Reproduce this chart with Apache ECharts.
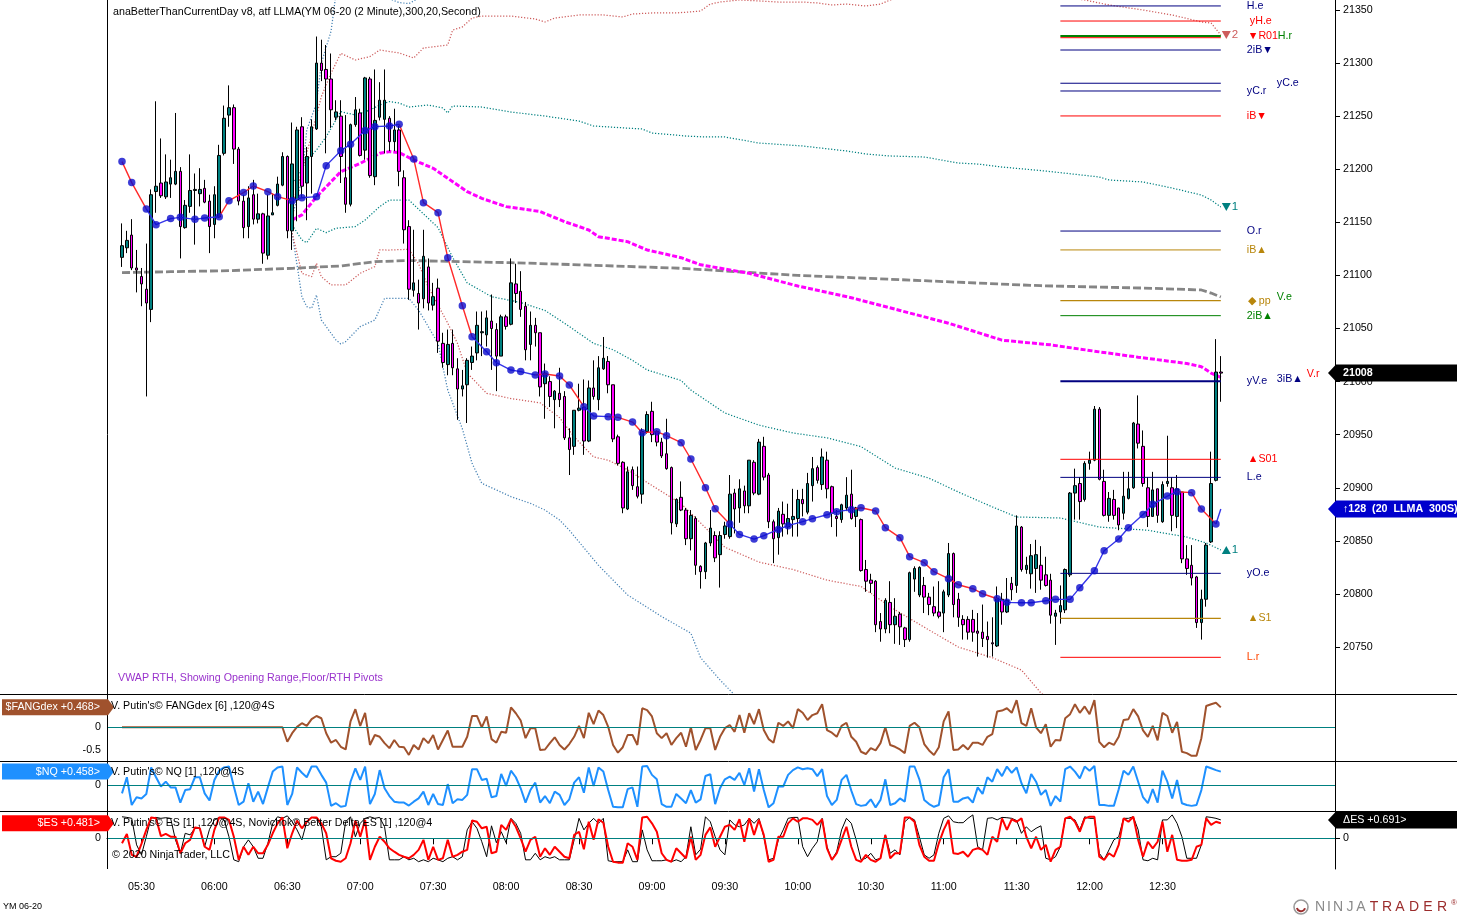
<!DOCTYPE html>
<html>
<head>
<meta charset="utf-8">
<title>YM 06-20 (2 Minute)</title>
<script src="https://cdn.jsdelivr.net/npm/echarts/dist/echarts.min.js"></script>
<style>
html,body{margin:0;padding:0;background:#fff;overflow:hidden}
#chart{width:1457px;height:916px}
</style>
</head>
<body>
<div id="chart"></div>
<script>
// ===================== DATA =====================
// bar i is the 2-minute bar at 05:22 + 2*i minutes
const firstBarMinute = 322;
const barMinutes = 2;
const timeTicks = ['05:30','06:00','06:30','07:00','07:30','08:00','08:30','09:00','09:30','10:00','10:30','11:00','11:30','12:00','12:30'];
const priceTicks = [20750,20800,20850,20900,20950,21000,21050,21100,21150,21200,21250,21300,21350];

// candles: [open, close, low, high]
const candles = [
[21117,21128,21108,21149],[21126,21133,21121,21142],[21138,21107,21105,21153],[21107,21105,21084,21124],[21099,21092,21071,21107],
[21087,21074,20986,21130],[21068,21176,21056,21181],[21179,21184,21159,21264],[21187,21175,21173,21229],[21174,21188,21172,21214],
[21186,21192,21173,21209],[21186,21198,21185,21253],[21198,21146,21116,21202],[21145,21166,21144,21171],[21165,21180,21159,21214],
[21180,21181,21129,21196],[21177,21181,21165,21201],[21182,21169,21168,21190],[21170,21146,21121,21176],[21148,21176,21135,21184],
[21155,21213,21154,21223],[21215,21248,21213,21260],[21251,21258,21240,21279],[21258,21219,21205,21261],[21219,21170,21166,21221],
[21170,21145,21135,21176],[21146,21173,21135,21184],[21176,21153,21148,21190],[21153,21158,21149,21177],[21158,21121,21111,21159],
[21119,21156,21115,21176],[21157,21159,21157,21177],[21166,21186,21165,21193],[21185,21212,21184,21216],[21212,21142,21135,21213],
[21142,21205,21124,21244],[21171,21237,21151,21240],[21240,21184,21174,21249],[21187,21212,21152,21221],[21212,21240,21177,21247],
[21238,21300,21237,21325],[21300,21293,21283,21322],[21294,21285,21215,21317],[21285,21256,21239,21309],[21249,21254,21246,21265],
[21250,21212,21187,21265],[21192,21167,21159,21251],[21167,21242,21165,21243],[21242,21256,21240,21268],[21253,21213,21212,21257],
[21218,21286,21209,21287],[21285,21194,21192,21287],[21193,21246,21185,21294],[21249,21265,21246,21282],[21247,21265,21215,21294],
[21248,21226,21217,21250],[21226,21237,21217,21257],[21237,21198,21184,21241],[21192,21143,21130,21199],[21146,21087,21077,21152],
[21086,21093,21080,21143],[21083,21074,21049,21096],[21078,21118,21069,21143],[21108,21074,21067,21116],[21072,21080,21067,21093],
[21088,21038,21027,21097],[21036,21018,21013,21046],[21016,21035,21006,21049],[21036,21013,21006,21049],[21012,20993,20964,21022],
[20993,20996,20986,21011],[20997,21020,20961,21022],[21018,21024,21011,21033],[21027,21053,21020,21066],[21046,21047,21024,21066],
[21044,21060,21033,21067],[21057,21050,21011,21082],[21049,21024,20991,21055],[21024,21061,21024,21063],[21061,21052,21049,21063],
[21054,21093,21053,21116],[21092,21083,21074,21111],[21085,21068,21061,21104],[21071,21030,21020,21075],[21035,21053,21020,21066],
[21053,21046,21033,21060],[21046,20995,20986,21046],[20998,21008,20965,21017],[21000,20986,20976,21005],[20983,20991,20956,20992],
[20989,20983,20976,21013],[20986,20947,20945,20991],[20947,20936,20912,20956],[20939,20973,20931,20973],[20973,20975,20972,20998],
[20976,20944,20931,21002],[20944,20994,20943,21001],[20994,20986,20983,21020],[20983,21013,20973,21024],[21012,21022,21011,21042],
[21019,20997,20989,21024],[20997,20946,20943,20997],[20948,20923,20921,20950],[20924,20881,20876,20925],[20880,20915,20879,20920],
[20917,20902,20898,20920],[20901,20892,20890,20920],[20894,20953,20885,20956],[20953,20969,20951,20972],[20972,20950,20943,20981],
[20953,20943,20939,20954],[20943,20930,20928,20947],[20932,20918,20917,20965],[20919,20867,20856,20920],[20866,20889,20863,20890],
[20891,20879,20878,20906],[20879,20852,20846,20881],[20852,20874,20841,20879],[20871,20827,20818,20873],[20826,20821,20805,20827],
[20821,20848,20814,20849],[20848,20862,20845,20879],[20855,20834,20830,20859],[20837,20855,20806,20859],[20856,20864,20852,20868],
[20854,20894,20852,20912],[20895,20880,20857,20899],[20881,20899,20867,20908],[20897,20883,20876,20902],[20883,20926,20876,20926],
[20924,20895,20893,20926],[20894,20943,20893,20946],[20939,20910,20907,20948],[20912,20868,20862,20914],[20868,20852,20829,20870],
[20853,20878,20837,20881],[20875,20866,20854,20887],[20863,20871,20856,20885],[20870,20873,20854,20899],[20871,20889,20854,20898],
[20889,20885,20873,20899],[20877,20904,20875,20914],[20902,20918,20887,20929],[20919,20907,20904,20921],[20903,20929,20898,20937],
[20926,20899,20890,20934],[20901,20876,20863,20902],[20873,20871,20854,20879],[20870,20884,20867,20885],[20881,20893,20878,20910],
[20894,20871,20870,20917],[20873,20881,20863,20882],[20870,20822,20821,20871],[20823,20812,20802,20832],[20813,20810,20801,20819],
[20812,20771,20764,20813],[20774,20767,20755,20782],[20767,20794,20763,20796],[20792,20771,20763,20812],[20771,20779,20753,20796],
[20781,20769,20752,20783],[20768,20757,20750,20769],[20757,20820,20755,20821],[20814,20824,20802,20826],[20799,20825,20797,20826],
[20808,20797,20782,20816],[20797,20790,20780,20801],[20788,20782,20779,20807],[20783,20779,20777,20812],[20782,20802,20764,20804],
[20799,20838,20797,20848],[20838,20790,20778,20839],[20795,20778,20769,20801],[20776,20771,20757,20780],[20776,20764,20757,20779],
[20776,20764,20755,20785],[20765,20763,20741,20782],[20764,20758,20750,20790],[20760,20757,20740,20774],[20754,20753,20741,20778],
[20751,20796,20750,20807],[20795,20783,20771,20801],[20783,20794,20782,20815],[20810,20804,20794,20816],[20808,20864,20801,20874],
[20863,20823,20821,20864],[20823,20827,20819,20835],[20819,20836,20805,20847],[20824,20837,20801,20851],[20827,20813,20804,20845],
[20818,20808,20807,20835],[20813,20780,20772,20819],[20779,20782,20752,20785],[20783,20789,20772,20808],[20785,20823,20782,20824],
[20818,20895,20816,20896],[20895,20902,20870,20918],[20904,20887,20870,20910],[20889,20923,20887,20925],[20923,20926,20917,20934],
[20926,20974,20925,20977],[20974,20908,20907,20976],[20906,20874,20873,20917],[20874,20890,20868,20896],[20889,20874,20870,20898],
[20881,20865,20860,20881],[20876,20892,20870,20915],[20890,20899,20889,20915],[20900,20961,20899,20962],[20960,20942,20937,20987],
[20939,20904,20901,20954],[20900,20873,20863,20910],[20873,20898,20873,20915],[20899,20874,20867,20899],[20868,20903,20867,20906],
[20904,20906,20901,20949],[20900,20874,20859,20910],[20873,20899,20862,20912],[20896,20833,20829,20896],[20833,20824,20818,20846],
[20827,20815,20808,20846],[20816,20773,20768,20817],[20773,20795,20757,20804],[20795,20846,20788,20848],[20849,20904,20848,20934],
[20907,21009,20906,21040],[21009,21008,20981,21024]
];

// LLMA (dots) : bar index, value; colour runs of the connecting line
const llmaBars = [0,2,5,7,10,12,15,17,20,22,25,27,30,32,35,37,40,42,45,47,50,52,55,57,60,62,65,67,70,72,75,77,80,82,85,87,90,92,95,97,100,102,105,107,110,112,115,117,120,122,125,127,130,132,135,137,140,142,145,147,150,152,155,157,160,162,165,167,170,172,175,177,180,182,185,187,190,192,195,197,200,202,205,207,210,212,215,217,220,222,225,226];
const llmaVals = [21207.2,21187.4,21162.6,21147.8,21153.5,21154.7,21152.8,21154.1,21155.3,21170.4,
21178.0,21184.2,21178.9,21174.2,21170.4,21173.2,21174.2,21203.4,21217.5,21223.5,
21236.4,21240.1,21240.7,21242.3,21209.7,21168.5,21159.1,21116.7,21071.5,21042.3,
21028.2,21017.8,21010.9,21009.4,21006.2,21007.2,21005.3,20996.8,20976.4,20967.6,
20967.0,20966.3,20961.9,20951.9,20952.8,20949.1,20942.5,20927.1,20900.1,20880.3,
20865.9,20856.1,20851.7,20854.9,20860.8,20864.3,20868.1,20870.9,20874.6,20877.5,
20879.4,20881.2,20878.1,20862.4,20853.0,20835.1,20829.4,20821.0,20814.4,20808.7,
20804.9,20800.2,20795.5,20792.1,20791.7,20791.7,20793.6,20794.9,20794.9,20805.9,
20821.9,20840.7,20851.7,20862.4,20874.9,20884.4,20892.2,20896.3,20895.4,20880.0,
20865.9,20880.0];
const llmaRuns = [['r',2],['b',6],['r',6],['b',9],['r',6],['b',5],['r',4],['b',2],['r',10],['b',10],['r',12],['b',15],['r',3],['b',1]];

// VWAP (grey dashed) and RTH VWAP (magenta) : [bar, value]
const vwap = [[0,21102.6],[10,21103.5],[22,21104.5],[35,21106.7],[45,21108.9],[52,21113.0],[59,21114.0],[80,21112.0],[94,21110.0],[115,21106.7],[139,21100.0],[160,21096.0],[180,21092.0],[189,21090.3],[210,21088.1],[222,21086.3],[224,21083.4],[226,21079.7]];
const vwapRth = [[35,21152.2],[37,21157.0],[40,21174.0],[45,21197.7],[49,21205.6],[53,21215.0],[55,21216.6],[57,21215.7],[60,21208.7],[64,21200.9],[67,21191.5],[71,21178.9],[74,21172.6],[79,21164.8],[86,21160.1],[91,21150.7],[96,21142.8],[98,21136.5],[104,21131.8],[108,21124.0],[115,21116.7],[119,21110.0],[129,21102.0],[139,21090.0],[150,21079.0],[160,21067.0],[170,21055.0],[181,21039.0],[191,21034.6],[201,21028.0],[209,21023.0],[219,21017.0],[222,21014.0],[224,21008.0],[226,21004.0]];

// deviation bands : [bar, value]
const tealUp = [[35,21186.7],[37,21200.9],[38,21208.7],[40,21218.1],[42,21230.7],[44,21246.4],[45,21254.2],[48,21251.1],[51,21255.8],[53,21260.5],[55,21263.7],[57,21262.4],[59,21258.6],[63,21260.5],[66,21257.7],[67,21253.0],[68,21259.6],[74,21258.6],[80,21253.9],[87,21250.1],[94,21245.4],[97,21240.7],[107,21237.9],[109,21234.1],[116,21231.3],[120,21230.4],[124,21230.4],[131,21224.7],[140,21221.9],[149,21217.2],[153,21214.4],[158,21212.5],[165,21211.5],[172,21205.9],[176,21204.9],[181,21202.1],[190,21198.3],[201,21192.7],[203,21189.9],[210,21188.0],[216,21182.3],[222,21175.7],[224,21171.0],[226,21164.4]];
const tealLo = [[35,21147.5],[37,21133.4],[38,21130.8],[40,21144.4],[42,21140.3],[44,21144.4],[48,21146.0],[50,21152.2],[53,21164.8],[55,21171.0],[59,21171.0],[62,21158.0],[65,21145.0],[68,21117.0],[71,21093.0],[76,21080.0],[82,21074.5],[87,21067.0],[91,21055.0],[97,21036.0],[101,21030.0],[105,21020.0],[108,21011.0],[115,21001.0],[117,20992.0],[124,20970.4],[131,20959.0],[138,20951.6],[145,20947.0],[152,20938.7],[159,20918.6],[166,20909.0],[172,20896.0],[179,20882.0],[184,20872.5],[193,20871.5],[201,20863.0],[211,20860.0],[219,20853.6],[223,20848.0],[226,20841.4]];
const redUp = [[35,21164.8],[38,21215.0],[41,21268.4],[43,21290.4],[45,21309.2],[48,21302.9],[51,21306.1],[53,21312.3],[57,21309.5],[60,21304.8],[62,21314.2],[67,21317.0],[68,21331.1],[70,21334.0],[72,21342.4],[74,21344.3],[80,21344.3],[85,21341.5],[87,21338.7],[89,21342.4],[94,21345.3],[99,21345.3],[103,21343.4],[105,21346.2],[109,21347.2],[114,21347.2],[119,21349.0],[121,21355.6],[123,21357.5],[127,21359.4],[131,21358.5],[135,21357.5],[140,21357.5],[143,21356.6],[146,21354.7],[149,21355.6],[153,21353.7],[156,21355.6],[158,21359.4],[162,21363.0],[170,21365.0],[180,21367.0],[190,21364.0],[198,21359.4],[203,21354.7],[210,21350.0],[216,21345.3],[222,21338.7],[224,21337.7],[226,21326.4]];
const redLo = [[35,21139.7],[37,21102.0],[39,21098.8],[40,21111.4],[41,21098.8],[43,21091.0],[46,21091.0],[49,21102.0],[52,21108.3],[53,21124.0],[55,21123.9],[59,21124.6],[61,21111.0],[63,21089.0],[67,21055.0],[69,21036.0],[71,21008.0],[75,20989.0],[80,20984.0],[86,20980.0],[90,20966.0],[93,20948.0],[97,20929.0],[100,20926.0],[104,20917.0],[108,20905.0],[115,20885.0],[117,20876.0],[124,20844.0],[131,20830.0],[138,20823.0],[145,20813.0],[152,20807.0],[155,20797.5],[159,20785.0],[166,20766.0],[172,20750.0],[179,20740.0],[185,20728.3],[189,20706.7],[193,20695.0],[201,20690.0],[226,20680.0]];
const blueUp = [[35,21155.0],[37,21190.0],[38,21237.0],[40,21262.0],[41,21300.0],[43,21330.0],[44,21365.0],[48,21385.0],[53,21364.0],[57,21357.0],[59,21356.0],[61,21361.0],[66,21385.0],[90,21430.0],[140,21450.0],[226,21490.0]];
const blueLo = [[35,21139.7],[37,21080.0],[38,21070.6],[39,21069.0],[40,21081.6],[41,21058.0],[44,21039.2],[45,21035.4],[46,21037.6],[49,21051.8],[52,21058.0],[54,21078.4],[59,21078.4],[61,21067.4],[65,21036.0],[67,20992.0],[70,20955.6],[72,20923.0],[74,20904.2],[77,20898.0],[80,20891.6],[84,20885.3],[87,20879.0],[90,20869.6],[92,20860.0],[98,20827.0],[104,20799.0],[111,20778.7],[117,20763.0],[119,20740.0],[123,20719.0],[127,20700.0],[140,20650.0],[226,20560.0]];

// floor / RTH pivots drawn on the right
const pivotNames  = ['H.e','yH.e','R01','H.r','2iB-dn','yC.e','yC.r','iB-dn','O.r','iB-up','pp','2iB-up','yV.e','S01','L.e','yO.e','S1','L.r'];
const pivotLevels = [21353.8,21339.6,21323.9,21325.6,21312.3,21281.0,21273.7,21250.2,21141.8,21124.0,21076.3,21062.1,21000.4,20926.8,20909.8,20819.4,20777.0,20740.3];
const pivotFromBar = 193, pivotToBar = 226;
const tagTexts  = ['H.e','yH.e','\u25BCR01','H.r','2iB\u25BC','yC.e','yC.r','iB\u25BC','O.r','iB\u25B2','\u25C6 pp','V.e','2iB\u25B2','yV.e','3iB\u25B2','V.r','\u25B2S01','L.e','yO.e','\u25B2S1','L.r'];
const tagLevels = [21353.8,21339.6,21325.0,21325.0,21312.3,21281.0,21273.7,21250.2,21141.8,21124.0,21076.3,21079.5,21062.1,21000.4,21002.5,21007.5,20926.8,20909.8,20819.4,20777.0,20740.3];

// lower panels (one value per bar)
const fang = [
0,0,0,0,0,0,0,0,0,0, 0,0,0,0,0,0,0,0,0,0, 0,0,0,0,0,0,0,0,0,0, 0,0,0,0,
-0.32,-0.13,0.01,0.09,0.03,0.18,0.25,0.20,-0.13,-0.34,-0.28,-0.43,-0.49,0.13,0.40,0.03,0.32,-0.39,-0.17,-0.21,
-0.35,-0.46,-0.28,-0.43,-0.44,-0.61,-0.39,-0.49,-0.24,-0.35,-0.17,-0.49,-0.28,-0.07,-0.43,-0.43,-0.43,-0.21,0.25,0.25,
0.00,0.24,-0.26,-0.34,-0.10,-0.12,0.44,0.31,0.15,-0.24,
-0.02,-0.02,-0.50,-0.49,-0.35,-0.22,-0.39,-0.49,-0.37,-0.21,
0.03,-0.24,0.32,0.07,0.37,0.27,0.01,-0.39,-0.56,-0.44,
-0.17,-0.17,-0.39,0.42,0.38,0.24,-0.13,-0.24,-0.13,-0.39,
-0.24,-0.12,-0.43,0.00,-0.50,-0.28,-0.02,-0.02,-0.50,-0.21,
-0.02,0.05,-0.10,0.27,-0.12,0.31,0.07,0.40,-0.06,-0.26,
-0.34,0.10,0.03,0.13,-0.02,0.40,0.32,0.16,0.27,0.31,
0.51,-0.06,-0.12,-0.21,0.03,0.10,-0.21,-0.32,-0.54,-0.59,
-0.46,-0.51,-0.35,0.00,-0.39,-0.43,-0.49,-0.57,0.03,0.10,
0.00,-0.37,-0.51,-0.61,-0.44,0.13,0.35,-0.50,-0.49,-0.39,
-0.49,-0.34,-0.34,
-0.39,-0.21,-0.15,0.35,0.37,0.42,0.32,0.60,0.09,0.03,
0.42,0.00,-0.13,0.07,-0.43,-0.28,-0.29,0.20,0.29,0.51,
0.32,0.46,0.29,0.60,-0.32,-0.44,-0.34,-0.39,-0.21,0.16,
0.18,0.40,0.24,-0.07,-0.21,0.03,-0.29,0.32,0.25,-0.12,
0.12,-0.54,-0.57,-0.63,-0.63,-0.24,0.47,0.51,0.54,0.44
];
const nq = [
-0.27,0.27,-0.66,-0.40,-0.44,-0.29,0.60,0.27,-0.04,0.12,
-0.07,-0.07,-0.58,-0.16,-0.13,0.27,0.27,-0.27,-0.51,0.18,
0.49,0.60,0.63,-0.04,-0.66,-0.55,0.07,-0.55,-0.21,-0.63,
-0.07,0.46,0.60,0.63,-0.66,-0.29,0.60,0.42,0.27,0.63,
0.63,0.35,0.09,-0.69,-0.60,-0.72,-0.69,0.12,0.57,0.18,
0.63,-0.63,-0.29,0.51,-0.10,-0.36,-0.55,-0.58,-0.58,-0.68,
-0.55,-0.44,-0.21,-0.66,-0.29,-0.63,-0.66,0.04,-0.60,-0.47,
-0.49,-0.32,0.54,0.54,0.18,0.22,-0.40,-0.36,
0.38,-0.02,0.49,0.27,-0.10,-0.58,-0.16,0.09,-0.58,-0.36,
-0.60,-0.21,-0.32,-0.66,-0.47,0.09,0.27,-0.25,0.60,-0.02,
0.60,0.46,-0.16,-0.72,-0.74,-0.74,-0.13,-0.07,-0.72,0.63,
0.65,0.35,0.20,-0.63,-0.72,-0.72,-0.29,-0.44,-0.60,-0.16,
-0.58,-0.47,0.31,0.37,-0.63,-0.10,0.20,0.29,0.18,0.42,
0.01,0.57,-0.21,0.54,-0.16,-0.74,-0.60,-0.04,-0.04,0.35,
0.51,0.60,0.54,0.57,0.54,0.31,0.54,-0.36,-0.66,-0.49,
0.18,0.35,-0.18,-0.63,-0.69,-0.66,-0.47,-0.74,-0.49,0.20,
-0.66,-0.60,-0.44,-0.55,0.63,0.63,0.20,-0.49,-0.63,-0.72,
-0.66,0.27,0.54,-0.55,-0.55,-0.44,-0.40,-0.58,-0.07,
-0.29,0.27,0.12,0.54,0.31,0.63,0.42,0.60,0.07,-0.27,
0.38,0.12,-0.32,-0.16,-0.69,-0.36,-0.55,0.54,0.63,0.46,
0.23,0.63,0.49,0.65,-0.66,-0.66,-0.69,-0.69,-0.13,0.49,
0.35,0.63,0.12,-0.40,-0.60,-0.13,-0.58,0.49,0.12,-0.44,
0.18,-0.60,-0.66,-0.69,-0.66,-0.16,0.63,0.57,0.51,0.46
];
const es = [
-0.16,0.14,-0.53,-0.59,-0.18,0.27,0.67,0.64,0.07,0.14,
0.05,0.05,-0.48,-0.16,-0.05,0.35,0.32,-0.27,-0.37,0.27,
0.67,0.67,0.59,0.05,-0.69,-0.27,-0.53,-0.27,-0.48,-0.48,
-0.21,0.16,0.48,0.67,-0.32,0.16,0.57,0.32,0.53,0.67,
0.67,0.48,0.16,-0.64,-0.72,-0.75,-0.64,-0.16,0.57,0.05,
0.59,-0.69,-0.27,0.05,-0.11,-0.32,-0.43,-0.53,-0.59,-0.64,
-0.53,-0.37,-0.05,-0.69,-0.27,-0.69,-0.64,-0.05,-0.59,-0.53,
-0.43,-0.37,0.57,0.53,0.32,0.37,-0.48,-0.43,
0.43,0.27,0.61,0.37,0,-0.43,-0.05,0.05,-0.59,-0.32,
-0.53,-0.27,-0.43,-0.59,-0.64,0.11,0.21,-0.35,0.53,-0.05,
0.61,0.50,-0.27,-0.75,-0.78,-0.78,-0.16,-0.27,-0.69,0.67,
0.69,0.48,0.21,-0.48,-0.69,-0.75,-0.32,-0.48,-0.64,0.05,
-0.69,-0.53,0.11,0.35,-0.27,0.05,0.37,0.43,0.27,0.61,
-0.11,0.64,0.11,0.59,0.11,-0.75,-0.69,0.05,0.05,0.48,
0.64,0.53,0.64,0.64,0.59,0.43,0.61,-0.32,-0.69,-0.48,
-0.05,0.37,-0.27,-0.69,-0.75,-0.53,-0.69,-0.75,-0.64,0.11,
-0.64,-0.48,-0.48,0.67,0.67,0.53,-0.21,-0.59,-0.72,-0.72,
-0.16,0.27,0.59,-0.48,-0.50,-0.43,-0.59,-0.37,-0.32,
-0.37,-0.53,0.05,-0.11,0.64,0.27,0.61,0.53,0.64,0.05,
-0.32,0.05,-0.37,-0.21,-0.75,-0.37,-0.27,0.64,0.69,0.53,
0.21,0.64,0.69,0.69,-0.59,-0.69,-0.48,-0.59,-0.21,0.64,
0.53,0.69,-0.05,-0.59,-0.11,-0.32,-0.11,0.53,-0.43,0.11,
-0.69,-0.72,-0.72,-0.69,-0.27,-0.21,0.64,0.43,0.53,0.48
];
const esDelta = [
0.69,0.67,0.64,-0.21,-0.53,0.05,0.66,0.67,0.64,0.66,
0.64,-0.05,-0.48,0.16,0.11,0.32,0.32,-0.27,0.29,0.59,
0.67,0.59,0.05,-0.69,-0.75,-0.27,-0.05,-0.27,-0.64,-0.64,
-0.16,0.48,0.69,0.64,0.72,0.53,0.27,-0.05,0.53,0.67,
0.64,0.37,-0.69,-0.59,-0.59,-0.48,0.53,0.69,0.05,0.48,
0.64,0.69,0.64,0.67,0.37,-0.69,-0.69,-0.69,-0.59,-0.69,
-0.64,-0.75,-0.69,-0.75,-0.64,-0.69,-0.75,-0.64,-0.59,-0.69,
-0.59,0.27,0.53,0.32,-0.11,-0.59,0.40,-0.14,
0.21,-0.14,0.64,0.48,0.16,-0.69,-0.69,-0.48,-0.69,-0.59,
-0.64,-0.59,-0.69,-0.69,-0.69,-0.05,0.64,0.27,0.48,0.64,
0.48,0.64,-0.72,-0.75,-0.75,-0.75,-0.37,-0.75,-0.75,0.27,
-0.37,-0.72,-0.72,-0.72,-0.69,-0.75,-0.69,-0.75,-0.59,0.37,
-0.53,-0.35,0.69,0.53,0.05,-0.37,-0.53,0.59,0.43,0.37,
0.43,0.64,0.48,0.64,0.05,-0.69,-0.64,-0.05,0.27,0.64,
0.67,0.67,-0.27,-0.59,-0.32,-0.11,0.64,-0.27,-0.69,-0.43,
0.27,0.64,0.48,-0.05,-0.69,-0.64,-0.48,-0.69,-0.64,0.11,
-0.48,-0.37,-0.53,0.53,0.67,0.59,0.05,-0.53,-0.64,-0.53,
0.16,0.64,0.72,0.53,0.50,0.50,0.64,0.75,-0.27,
-0.37,0.64,0.66,0.59,0.67,0.66,0.64,0.57,0.16,0.37,
0.21,0.32,0.40,-0.64,-0.69,-0.59,-0.27,0.64,0.64,0.59,
0.27,0.69,0.64,0.64,-0.48,-0.69,-0.37,-0.05,0.05,0.64,
0.64,0.69,0.27,-0.69,-0.72,-0.64,-0.69,0.59,0.59,0.75,
0.48,0.05,-0.64,-0.64,-0.64,-0.21,0.69,0.67,0.64,0.59
];
const fangTag = 0.468, nqTag = 0.458, esTag = 0.481, esDeltaTag = 0.691;
const llmaTagText = '\u2191128  (20  LLMA  300S)';

// ===================== CHART =====================
const FONT = '"Liberation Sans", Arial, Helvetica, sans-serif';
const FS = 10.7;
const L = 107, R = 1335, W = R - L;
const X_MIN = 315.83, X_MAX = 820.97;
const barTime = i => firstBarMinute + barMinutes * i;
const toMin = s => parseInt(s.slice(0,2),10)*60 + parseInt(s.slice(3),10);
const fmtTime = m => { m = Math.round(m); return String(Math.floor(m/60)).padStart(2,'0') + ':' + String(m%60).padStart(2,'0'); };
const tickMinutes = timeTicks.map(toMin);

const C = {navy:'#000080', red:'#FF0000', gold:'#B8860B', green:'#008000', orange:'#FF4500', teal:'#008080'};
const pivotStyle = {
  'H.e':[C.navy,1], 'yH.e':[C.red,1], 'H.r':[C.green,2], 'R01':[C.red,1], '2iB-dn':[C.navy,1],
  'yC.e':[C.navy,1], 'yC.r':[C.navy,1], 'iB-dn':[C.red,1], 'O.r':[C.navy,1], 'iB-up':[C.gold,1],
  'pp':[C.gold,1.3], '2iB-up':[C.green,1], 'yV.e':[C.navy,2], 'S01':[C.red,1], 'L.e':[C.navy,1],
  'yO.e':[C.navy,1], 'S1':[C.gold,1.3], 'L.r':[C.red,1]
};
const tagStyle = {
  'H.e':[C.navy,26], 'yH.e':[C.red,29], '\u25BCR01':[C.red,27], 'H.r':[C.green,57], '2iB\u25BC':[C.navy,26],
  'yC.e':[C.navy,56], 'yC.r':[C.navy,26], 'iB\u25BC':[C.red,26], 'O.r':[C.navy,26], 'iB\u25B2':[C.gold,26],
  '\u25C6 pp':[C.gold,27], 'V.e':[C.green,56], '2iB\u25B2':[C.green,26], 'yV.e':[C.navy,26], '3iB\u25B2':[C.navy,56],
  'V.r':[C.red,86], '\u25B2S01':[C.red,27], 'L.e':[C.navy,26], 'yO.e':[C.navy,26], '\u25B2S1':[C.gold,27], 'L.r':[C.orange,26]
};

const chart = echarts.init(document.getElementById('chart'), null, {renderer:'canvas'});

const pts = arr => arr.map(p => [barTime(p[0]), p[1]]);
const perBar = arr => arr.map((v,i) => [barTime(i), v]);

function band(arr, color){
  return {type:'line', xAxisIndex:0, yAxisIndex:0, data: pts(arr), symbol:'none', showSymbol:false, silent:true, z:1,
    lineStyle:{color, width:1.25, type:[1.2,1.8]}};
}

// LLMA coloured segments
const llmaPts = llmaBars.map((b,k) => [barTime(b), llmaVals[k]]);
const llmaSegColor = [];
llmaRuns.forEach(r => { for (let k = 0; k < r[1]; k++) llmaSegColor.push(r[0]); });
const llmaRed = [], llmaBlue = [];
for (let k = 0; k < llmaPts.length - 1; k++) {
  const arr = llmaSegColor[k] === 'r' ? llmaRed : llmaBlue;
  const last = arr[arr.length-1];
  if (!last || last[0] !== llmaPts[k][0]) {
    if (last) arr.push([(last[0] + llmaPts[k][0]) / 2, '-']);
    arr.push(llmaPts[k]);
  }
  arr.push(llmaPts[k+1]);
}

const axisFont = {color:'#000', fontFamily:FONT, fontSize:FS};
const zeroLine = {silent:true, symbol:'none', label:{show:false}, lineStyle:{color:'#008080', type:'solid', width:1}, data:[{yAxis:0}]};

const grids = [
  {left:L, top:0, width:W, height:693},
  {left:L, top:694, width:W, height:67},
  {left:L, top:761, width:W, height:50},
  {left:L, top:811, width:W, height:58}
];

const option = {
  animation:false,
  backgroundColor:'#ffffff',
  textStyle:{fontFamily:FONT},
  grid: grids.map(g => Object.assign({containLabel:false}, g)),
  xAxis: [0,1,2,3].map(g => ({
    type:'value', gridIndex:g, min:X_MIN, max:X_MAX, show: g === 3,
    splitLine:{show:false},
    axisLine:{show:true, lineStyle:{color:'#000', width:1}},
    axisTick:{show:true, length:6, lineStyle:{color:'#000'}, customValues: tickMinutes},
    axisLabel:Object.assign({show:true, margin:13, customValues: tickMinutes, formatter: v => fmtTime(v)}, axisFont)
  })),
  yAxis: [
    {type:'value', gridIndex:0, position:'right', min:20706.7, max:21359.4, scale:true,
     splitLine:{show:false},
     axisLine:{show:true, lineStyle:{color:'#000', width:1}},
     axisTick:{show:true, length:5, inside:false, lineStyle:{color:'#000'}, customValues: priceTicks},
     axisLabel:Object.assign({margin:8, customValues: priceTicks, formatter: v => String(v)}, axisFont)},
    {type:'value', gridIndex:1, position:'left', min:-0.744, max:0.735, splitLine:{show:false},
     axisLine:{show:false}, axisTick:{show:false},
     axisLabel:Object.assign({margin:6, customValues:[-0.5, 0], formatter: v => String(v)}, axisFont)},
    {type:'value', gridIndex:2, position:'left', min:-0.862, max:0.815, splitLine:{show:false},
     axisLine:{show:false}, axisTick:{show:false},
     axisLabel:Object.assign({margin:6, customValues:[0], formatter: v => String(v)}, axisFont)},
    {type:'value', gridIndex:3, position:'left', min:-0.984, max:0.875, splitLine:{show:false},
     axisLine:{show:false}, axisTick:{show:false},
     axisLabel:Object.assign({margin:6, customValues:[0], formatter: v => String(v)}, axisFont)},
    {type:'value', gridIndex:3, position:'right', min:-0.984, max:0.875, splitLine:{show:false},
     axisLine:{show:true, lineStyle:{color:'#000'}},
     axisTick:{show:true, length:5, lineStyle:{color:'#000'}, customValues:[0]},
     axisLabel:Object.assign({margin:8, customValues:[0], formatter: v => String(v)}, axisFont)}
  ],
  series: [
    band(blueUp, '#4682B4'), band(blueLo, '#4682B4'),
    band(redUp, '#CD5C5C'), band(redLo, '#CD5C5C'),
    band(tealUp, '#008080'), band(tealLo, '#008080'),
    {type:'line', xAxisIndex:0, yAxisIndex:0, data: pts(vwap), symbol:'none', silent:true, z:2,
     lineStyle:{color:'#858585', width:2.8, type:[8,3]}},
    {type:'line', xAxisIndex:0, yAxisIndex:0, data: pts(vwapRth), symbol:'none', silent:true, z:2,
     lineStyle:{color:'#FF00FF', width:3, type:[5,2]}},
    {type:'candlestick', xAxisIndex:0, yAxisIndex:0, silent:true, z:3, barWidth:3,
     data: candles.map((c,i) => [barTime(i), c[0], c[1], c[2], c[3]]),
     itemStyle:{color:'#008080', color0:'#FF00FF', borderColor:'#000000', borderColor0:'#000000', borderWidth:1}},
    ...pivotNames.map((n,k) => ({type:'line', xAxisIndex:0, yAxisIndex:0, symbol:'none', silent:true, z:4,
      data:[[barTime(pivotFromBar), pivotLevels[k]], [barTime(pivotToBar), pivotLevels[k]]],
      lineStyle:{color: pivotStyle[n][0], width: pivotStyle[n][1]}})),
    {type:'line', xAxisIndex:0, yAxisIndex:0, data: llmaRed, symbol:'none', silent:true, z:5, connectNulls:false,
     lineStyle:{color:'#FF2A2A', width:1.4}},
    {type:'line', xAxisIndex:0, yAxisIndex:0, data: llmaBlue, symbol:'none', silent:true, z:5, connectNulls:false,
     lineStyle:{color:'#3535E8', width:1.4}},
    {type:'scatter', xAxisIndex:0, yAxisIndex:0, data: llmaPts.slice(0, -1), symbol:'circle', symbolSize:7.5, silent:true, z:6,
     itemStyle:{color:'#0B0BCC'}},
    {type:'line', xAxisIndex:1, yAxisIndex:1, data: perBar(fang), symbol:'none', silent:true, z:3,
     lineStyle:{color:'#A0522D', width:2}, markLine: zeroLine},
    {type:'line', xAxisIndex:2, yAxisIndex:2, data: perBar(nq), symbol:'none', silent:true, z:3,
     lineStyle:{color:'#1E90FF', width:2}, markLine: zeroLine},
    {type:'line', xAxisIndex:3, yAxisIndex:3, data: perBar(esDelta), symbol:'none', silent:true, z:3,
     lineStyle:{color:'#000000', width:1}, markLine: zeroLine},
    {type:'line', xAxisIndex:3, yAxisIndex:3, data: perBar(es), symbol:'none', silent:true, z:4,
     lineStyle:{color:'#FF0000', width:2}}
  ]
};
chart.setOption(option);

// ---------- overlay texts / boxes through the chart's own scales ----------
const xp = t => chart.convertToPixel({xAxisIndex:0}, t);
const yp = (v, ax) => chart.convertToPixel({yAxisIndex: ax || 0}, v);

function txt(x, y, s, color, o) {
  o = o || {};
  const size = o.size || FS;
  const font = (o.bold ? 'bold ' : '') + size + 'px ' + FONT;
  return {type:'text', x, y, z: o.z || 100, silent:true,
    style:{text:s, fill:color, font, textAlign:o.align || 'left', align:o.align || 'left',
           textVerticalAlign:'middle', verticalAlign:'middle'}};
}
function seg(x1, y1, x2, y2, color, w) {
  return {type:'line', silent:true, z:90, shape:{x1, y1, x2, y2}, style:{stroke: color || '#000', lineWidth: w || 1}};
}
function poly(points, fill, z) {
  return {type:'polygon', silent:true, z: z || 95, shape:{points}, style:{fill}};
}

const g = [];
// frame lines
g.push(seg(0, 694.5, 1457, 694.5), seg(0, 761.5, 1457, 761.5), seg(0, 811.5, 1457, 811.5));
g.push(seg(107.5, 0, 107.5, 869), seg(1335.5, 0, 1335.5, 869));

// captions
g.push(txt(113, 12, 'anaBetterThanCurrentDay v8, atf LLMA(YM 06-20 (2 Minute),300,20,Second)', '#000'));
g.push(txt(118, 678, 'VWAP RTH, Showing Opening Range,Floor/RTH Pivots', '#9932CC'));
g.push(txt(111, 706.5, "V. Putin's\u00A9 FANGdex [6] ,120@4S", '#000'));
g.push(txt(111, 772.5, "V. Putin's\u00A9 NQ [1] ,120@4S", '#000'));
g.push(txt(111, 823, "V. Putin's\u00A9 ES [1] ,120@4S, Novichok\u00A9 Better Delta ES [1] ,120@4", '#000'));
g.push(txt(112, 855.5, '\u00A9 2020 NinjaTrader, LLC', '#000'));
g.push(txt(3, 907, 'YM 06-20', '#000', {size:9}));

// pivot tags
const xEnd = xp(barTime(pivotToBar));
tagTexts.forEach((t, k) => {
  const st = tagStyle[t];
  g.push(txt(xEnd + st[1], yp(tagLevels[k]), t, st[0]));
});

// band end markers
function triMarker(x, y, up, color, label) {
  const pts2 = up ? [[x, y+4], [x+9, y+4], [x+4.5, y-4]] : [[x, y-4], [x+9, y-4], [x+4.5, y+4]];
  g.push(poly(pts2, color, 96));
  g.push(txt(x + 10, y, label, color, {size:11.5}));
}
triMarker(xEnd + 1, yp(redUp[redUp.length-1][1]), false, '#CD5C5C', '2');
triMarker(xEnd + 1, yp(tealUp[tealUp.length-1][1]), false, '#008080', '1');
triMarker(xEnd + 1, yp(tealLo[tealLo.length-1][1]), true, '#008080', '1');

// left value boxes
function leftBox(cy, text, fill) {
  g.push(poly([[2, cy-8], [108, cy-8], [114, cy], [108, cy+8], [2, cy+8]], fill, 97));
  g.push(txt(100, cy, text, '#fff', {align:'right', z:98}));
}
leftBox(yp(fang[fang.length-1], 1), '$FANGdex +' + fangTag.toFixed(3) + '>', '#A0522D');
leftBox(yp(nq[nq.length-1], 2), '$NQ +' + nqTag.toFixed(3) + '>', '#1E90FF');
leftBox(yp(es[es.length-1], 3), '$ES +' + esTag.toFixed(3) + '>', '#FF0000');

// right value boxes
function rightBox(cy, text, fill, bold) {
  g.push(poly([[1328, cy], [1336, cy-8.5], [1457, cy-8.5], [1457, cy+8.5], [1336, cy+8.5]], fill, 97));
  g.push(txt(1343, cy, text, '#fff', {bold: !!bold, z:98}));
}
rightBox(yp(esDelta[esDelta.length-1], 3), '\u0394ES +' + esDeltaTag.toFixed(3) + '>', '#000000', false);
rightBox(yp(candles[candles.length-1][1]), String(candles[candles.length-1][1]), '#000000', true);
rightBox(yp(llmaVals[llmaVals.length-1]), llmaTagText, '#0000CD', true);

// NinjaTrader logo
g.push({type:'circle', silent:true, z:99, shape:{cx:1301, cy:907, r:7}, style:{fill:'none', stroke:'#9a9a9a', lineWidth:1.6}});
g.push({type:'arc', silent:true, z:99, shape:{cx:1301, cy:907, r:4.2, startAngle:0.3, endAngle:2.9}, style:{fill:'none', stroke:'#9b2c2c', lineWidth:2}});
const logoLetters = 'NINJATRADER'.split('');
const logoX = [1320, 1329, 1338, 1350, 1361, 1374, 1387, 1400, 1414, 1428, 1442];
logoLetters.forEach((ch, k) => {
  g.push(txt(logoX[k], 907, ch, k < 5 ? '#8a8a8a' : '#9b2c2c', {size:14, align:'center', z:99}));
});
g.push(txt(1451, 903, '\u00AE', '#9b2c2c', {size:8, z:99}));

chart.setOption({graphic: g});
</script>
</body>
</html>
